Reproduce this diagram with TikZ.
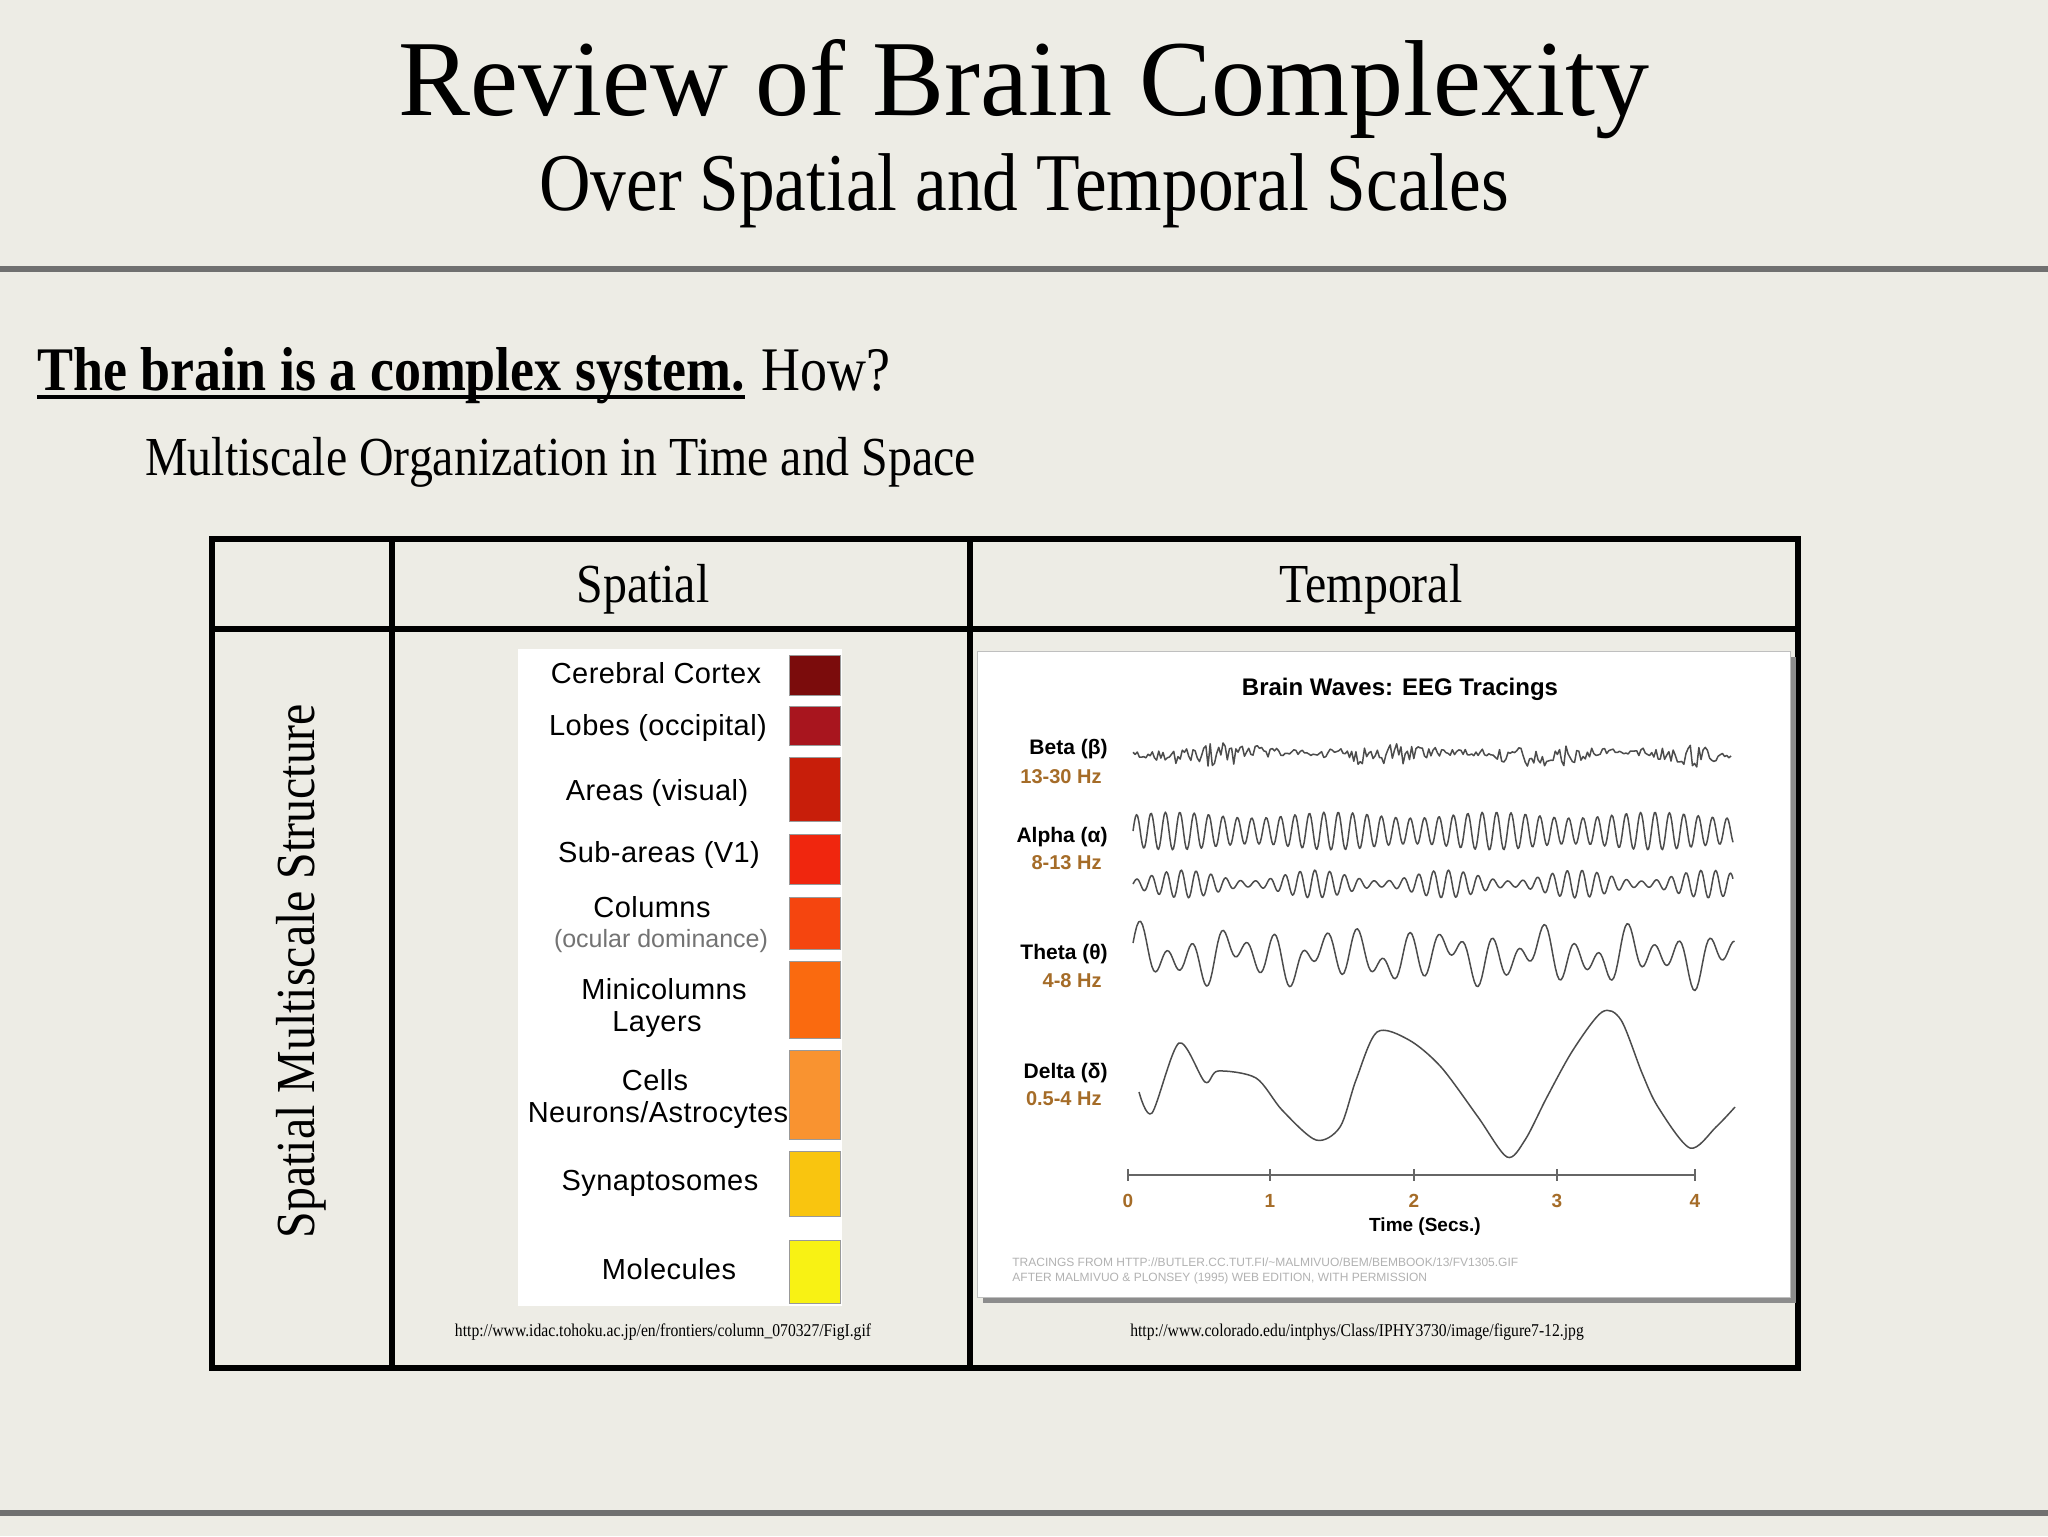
\documentclass[tikz,border=0pt]{standalone}
\usepackage{fontspec}
\usepackage{graphicx}
\setmainfont{Liberation Serif}
\newfontfamily\imgfont{Liberation Sans}
\newcommand{\sq}[1]{\scalebox{0.87}[1]{#1}}
\definecolor{slidebg}{RGB}{237,236,229}
\definecolor{rulegray}{RGB}{112,112,112}
\definecolor{hzbrown}{RGB}{165,108,40}
\definecolor{barA}{RGB}{123,12,12}
\definecolor{barB}{RGB}{168,21,30}
\definecolor{barC}{RGB}{200,30,10}
\definecolor{barD}{RGB}{240,38,14}
\definecolor{barE}{RGB}{245,69,15}
\definecolor{barF}{RGB}{250,106,15}
\definecolor{barG}{RGB}{249,147,48}
\definecolor{barH}{RGB}{249,197,15}
\definecolor{barI}{RGB}{248,242,20}
\begin{document}
\begin{tikzpicture}[x=0.5pt, y=-0.5pt,
  txt/.style={inner sep=0pt, anchor=base},
  cell/.style={draw=black, line width=3.4pt},
  rule/.style={draw=rulegray, line width=3pt},
  bar/.style={draw=black!40, line width=0.5pt},
  lab/.style={txt, font=\imgfont\addfontfeature{LetterSpace=1.5}\fontsize{14.5}{14.5}\selectfont},
  band/.style={inner sep=0pt, anchor=base east, font=\imgfont\bfseries\fontsize{10.5}{10.5}\selectfont},
  hz/.style={band, text=hzbrown, font=\imgfont\bfseries\fontsize{10}{10}\selectfont},
  tick/.style={txt, text=hzbrown, font=\imgfont\bfseries\fontsize{9.5}{9.5}\selectfont},
  wave/.style={draw=black!70, line width=0.75pt, line join=round},
  axis/.style={draw=black!60, line width=1pt}
]
\useasboundingbox (0,0) rectangle (2048,1536);
\fill[slidebg] (0,0) rectangle (2048,1536);

\node[txt, font=\fontsize{54}{54}\selectfont] (title) at (1024,115) {Review of Brain Complexity};
\node[txt, font=\fontsize{41}{41}\selectfont] (subtitle) at (1024,210) {\sq{Over Spatial and Temporal Scales}};
\draw[rule] (0,269) -- (2048,269);
\draw[rule] (0,1513) -- (2048,1513);

\node[txt, anchor=base west, font=\fontsize{31}{31}\selectfont] (claim) at (37,390) {\sq{\bfseries The brain is a complex system.}};
\node[txt, anchor=base west, font=\fontsize{31}{31}\selectfont] (how) at ([xshift=8pt]claim.base east) {\sq{How?}};
\draw[line width=2pt] ([yshift=-3.5pt]claim.base west) -- ([yshift=-3.5pt]claim.base east);
\node[txt, anchor=base west, font=\fontsize{27.5}{27.5}\selectfont] (multi) at (145,475) {\sq{Multiscale Organization in Time and Space}};

% table
\draw[cell] (212,539) rectangle (1798,1368);
\draw[cell] (212,629) -- (1798,629);
\draw[cell] (392,539) -- (392,1368);
\draw[cell] (970,539) -- (970,1368);
\node[txt, font=\fontsize{27.5}{27.5}\selectfont] (hspatial) at (643,602) {\sq{Spatial}};
\node[txt, font=\fontsize{27.5}{27.5}\selectfont] (htemporal) at (1371,602) {\sq{Temporal}};
\node[txt, rotate=90, font=\fontsize{27.5}{27.5}\selectfont] (rowlab) at (314,971) {\sq{Spatial Multiscale Structure}};

% spatial scales
\fill[white] (518,649) rectangle (842,1306);
\foreach \ya/\yb/\col in {655/695/barA, 706/745/barB, 757/821/barC, 834/884/barD, 897/949/barE,
    961/1038/barF, 1050/1139/barG, 1151/1216/barH, 1240/1303/barI}
  \draw[bar, fill=\col] (789,\ya) rectangle (840,\yb);
\node[lab] (cortex) at (656,683) {Cerebral Cortex};
\node[lab] (lobes) at (658,735) {Lobes (occipital)};
\node[lab] (areas) at (657,800) {Areas (visual)};
\node[lab] (subareas) at (659,862) {Sub-areas (V1)};
\node[lab] (columns) at (652,917) {Columns};
\node[lab, text=black!55, font=\imgfont\fontsize{12.5}{12.5}\selectfont] (ocular) at (661,947) {(ocular dominance)};
\node[lab] (minicol) at (664,999) {Minicolumns};
\node[lab] (layers) at (657,1031) {Layers};
\node[lab] (cells) at (655,1090) {Cells};
\node[lab] (neurons) at (658,1122) {Neurons/Astrocytes};
\node[lab] (synapt) at (660,1190) {Synaptosomes};
\node[lab] (molec) at (669,1279) {Molecules};
\node[txt, font=\fontsize{9}{9}\selectfont] (srcA) at (663,1336) {\sq{http://www.idac.tohoku.ac.jp/en/frontiers/column\_070327/FigI.gif}};

% eeg tracings
\fill[black!45] (983,657) rectangle (1796,1303);
\filldraw[fill=white, draw=black!25] (977,651) rectangle (1790,1297);
\node[txt, font=\imgfont\bfseries\fontsize{12}{12}\selectfont] (eegtitle) at (1400,695) {Brain Waves: EEG Tracings};
\node[band] (beta) at (1108,754) {Beta (β)};
\node[hz] (betahz) at (1102,783) {13-30 Hz};
\node[band] (alpha) at (1108,842) {Alpha (α)};
\node[hz] (alphahz) at (1102,869) {8-13 Hz};
\node[band] (theta) at (1108,959) {Theta (θ)};
\node[hz] (thetahz) at (1102,987) {4-8 Hz};
\node[band] (delta) at (1108,1078) {Delta (δ)};
\node[hz] (deltahz) at (1102,1105) {0.5-4 Hz};

\pgfmathsetseed{42}
\draw[wave] plot[domain=0:598, samples=280] ({1133+\x}, {754+2*sin(\x*2)+(3+9*pow(sin(\x*1.1),2))*rand});
\draw[wave] plot[domain=0:15000, samples=520] ({1133+\x/25}, {831-(16+3*sin(\x*0.09))*sin(\x)});
\draw[wave] plot[domain=0:15000, samples=520] ({1133+\x/25}, {884-(3+11*pow(sin(\x*0.055+20),2))*sin(\x*0.97)});
\draw[wave] plot[domain=0:8000, samples=320] ({1133+\x/13.3}, {956-16*sin(\x)-11*sin(0.61*\x+30)-8*sin(0.27*\x+70)});
\draw[wave] plot[smooth, tension=0.5] coordinates {(1139,1092) (1152,1113) (1179,1043) (1205,1082)
  (1218,1071) (1256,1078) (1282,1110) (1316,1140) (1340,1127) (1356,1080) (1377,1032) (1409,1040)
  (1441,1067) (1478,1117) (1507,1157) (1525,1140) (1547,1097) (1573,1050) (1602,1012) (1621,1020)
  (1642,1073) (1658,1107) (1690,1148) (1716,1127) (1735,1107)};

\draw[axis] (1128,1175) -- (1695,1175);
\foreach \t [count=\i from 0] in {1128,1270,1414,1557,1695} {
  \draw[axis] (\t,1169) -- (\t,1181);
  \node[tick] (t\i) at (\t,1207) {\i};
}
\node[txt, font=\imgfont\bfseries\fontsize{9.5}{9.5}\selectfont] (timelab) at (1425,1231) {Time (Secs.)};
\node[txt, anchor=base west, text=black!30, font=\imgfont\fontsize{6}{6}\selectfont] (credA) at (1012,1266) {TRACINGS FROM HTTP://BUTLER.CC.TUT.FI/\textasciitilde MALMIVUO/BEM/BEMBOOK/13/FV1305.GIF};
\node[txt, anchor=base west, text=black!30, font=\imgfont\fontsize{6}{6}\selectfont] (credB) at (1012,1281) {AFTER MALMIVUO \& PLONSEY (1995) WEB EDITION, WITH PERMISSION};
\node[txt, font=\fontsize{9}{9}\selectfont] (srcB) at (1357,1336) {\sq{http://www.colorado.edu/intphys/Class/IPHY3730/image/figure7-12.jpg}};
\end{tikzpicture}
\end{document}
